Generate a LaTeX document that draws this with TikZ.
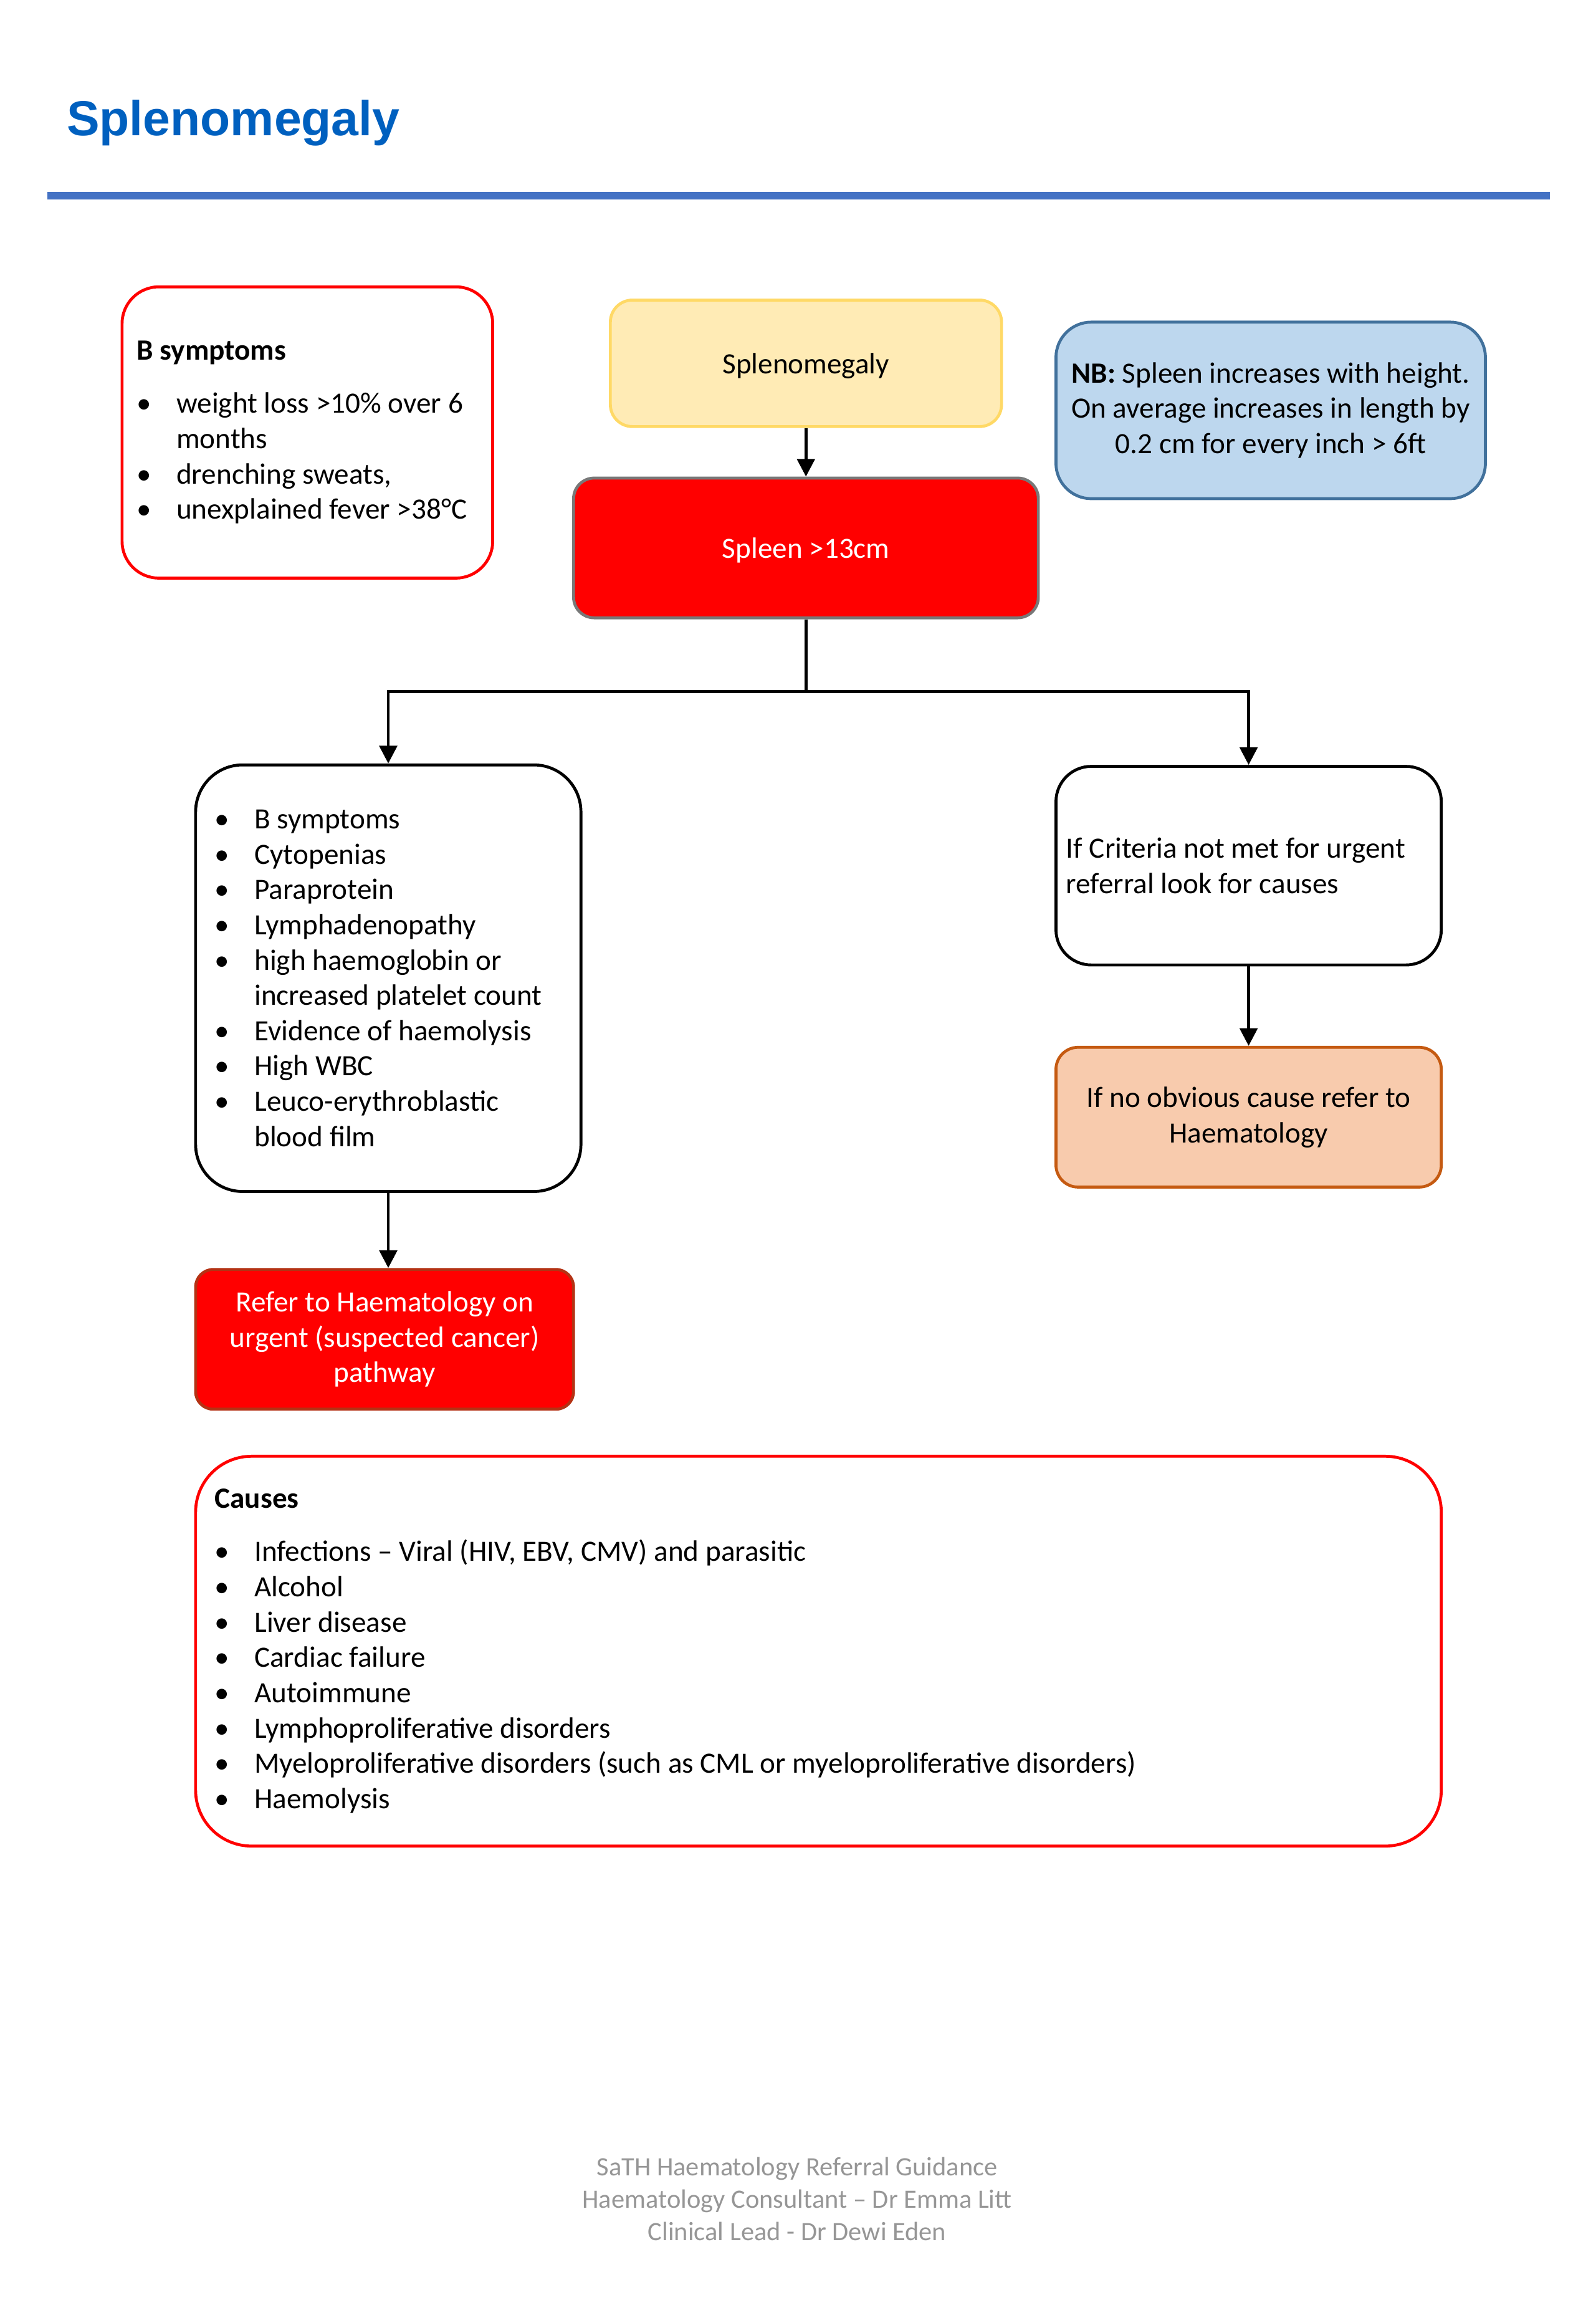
\documentclass[tikz,border=0pt]{standalone}
\usepackage{fontspec}
\setmainfont{Carlito}
\newfontfamily\titlefont{Liberation Sans}
\usetikzlibrary{arrows.meta}
\definecolor{titleblue}{RGB}{0,96,191}
\definecolor{ruleblue}{RGB}{68,114,196}
\definecolor{boxred}{RGB}{255,0,0}
\definecolor{yelfill}{RGB}{255,235,181}
\definecolor{yeldraw}{RGB}{255,217,102}
\definecolor{spleendraw}{RGB}{120,120,120}
\definecolor{nbfill}{RGB}{189,215,238}
\definecolor{nbdraw}{RGB}{65,113,156}
\definecolor{orfill}{RGB}{248,203,173}
\definecolor{ordraw}{RGB}{197,90,17}
\definecolor{referdraw}{RGB}{180,50,20}
\definecolor{footgray}{RGB}{150,150,150}
\newcommand\bul{\makebox[13.5pt][l]{\textbullet}}
\newcommand\ind{\hspace*{13.5pt}}
\newcommand\ns{\spaceskip=\fontdimen2\font\xspaceskip=\fontdimen2\font\relax}
\begin{document}
\begin{tikzpicture}[x=0.5pt,y=-0.5pt,
  box/.style={rectangle, line width=1pt, font=\fontsize{10}{12}\selectfont, inner ysep=0pt},
  arr/.style={line width=1pt, -{Triangle[width=6pt,length=6pt]}},
]
\useasboundingbox (0,0) rectangle (1085,1567);

% title and rule
\node[anchor=base west, inner sep=0pt, font=\titlefont\bfseries\fontsize{16.7}{20}\selectfont, text=titleblue] (title) at (45,92) {Splenomegaly};
\draw[ruleblue, line width=2.5pt] (32,133) -- (1054,133);

% B symptoms box
\node[box, draw=boxred, rounded corners=12.5pt, minimum width=126pt, minimum height=99pt,
      inner xsep=5pt, text width=116pt, align=left] (bsym) at (209,294)
  {\ns\textbf{B symptoms}\\[6pt]
   \bul weight loss >10\% over 6\\
   \ind months\\
   \bul drenching sweats,\\
   \bul unexplained fever >38°C};

% Splenomegaly
\node[box, text depth=0pt, draw=yeldraw, fill=yelfill, rounded corners=7.5pt, minimum width=133pt, minimum height=43pt] (splen) at (548,247) {Splenomegaly};

% Spleen >13cm
\node[box, text depth=0pt, draw=spleendraw, fill=boxred, text=white, rounded corners=7pt, minimum width=158pt, minimum height=47.5pt] (sp13) at (548,372.5) {Spleen >13cm};

% NB box
\node[box, draw=nbdraw, fill=nbfill, rounded corners=12pt, minimum width=146pt, minimum height=60pt,
      text width=139pt, align=center] (nb) at (864,279)
  {\ns\textbf{NB:} Spleen increases with height.\\
   On average increases in length by\\
   0.2 cm for every inch > 6ft};

% criteria list
\node[box, draw=black, rounded corners=16pt, minimum width=131pt, minimum height=145pt,
      inner xsep=6.5pt, text width=118pt, align=left] (crit) at (264,665)
  {\ns\bul B symptoms\\
   \bul Cytopenias\\
   \bul Paraprotein\\
   \bul Lymphadenopathy\\
   \bul high haemoglobin or\\
   \ind increased platelet count\\
   \bul Evidence of haemolysis\\
   \bul High WBC\\
   \bul Leuco-erythroblastic\\
   \ind blood film};

% refer urgent
\node[box, draw=referdraw, fill=boxred, text=white, rounded corners=6pt, minimum width=128.5pt, minimum height=47.5pt,
      text width=121pt, align=center] (refer) at (261.5,910.5)
  {\ns Refer to Haematology on\\ urgent (suspected cancer)\\ pathway};

% criteria not met
\node[box, draw=black, rounded corners=12pt, minimum width=131pt, minimum height=67.5pt,
      inner xsep=3.5pt, text width=124pt, align=left] (notmet) at (849,588.5)
  {\ns If Criteria not met for urgent\\ referral look for causes};

% no obvious cause
\node[box, draw=ordraw, fill=orfill, rounded corners=7.5pt, minimum width=131pt, minimum height=47.5pt,
      text width=124pt, align=center] (nocause) at (849,759.5)
  {\ns If no obvious cause refer to\\ Haematology};

% causes
\node[box, draw=boxred, rounded corners=19pt, minimum width=423.5pt, minimum height=132.5pt,
      inner xsep=6.5pt, text width=410.5pt, align=left] (causes) at (556.5,1122.5)
  {\ns\textbf{Causes}\\[6pt]
   \bul Infections – Viral (HIV, EBV, CMV) and parasitic\\
   \bul Alcohol\\
   \bul Liver disease\\
   \bul Cardiac failure\\
   \bul Autoimmune\\
   \bul Lymphoproliferative disorders\\
   \bul Myeloproliferative disorders (such as CML or myeloproliferative disorders)\\
   \bul Haemolysis};

% footer
\node[align=center, inner sep=0pt, text=footgray, font=\fontsize{9}{11}\selectfont] (footer) at (542,1495)
  {\ns SaTH Haematology Referral Guidance\\
   Haematology Consultant – Dr Emma Litt\\
   Clinical Lead - Dr Dewi Eden};

% connectors
\coordinate (junc) at (548,470);
\draw[arr] (splen.south) -- (sp13.north);
\draw[arr] (sp13.south) -- (junc) -| (crit.north);
\draw[arr] (junc) -| (notmet.north);
\draw[arr] (crit.south) -- (crit.south |- refer.north);
\draw[arr] (notmet.south) -- (nocause.north);
\end{tikzpicture}
\end{document}
